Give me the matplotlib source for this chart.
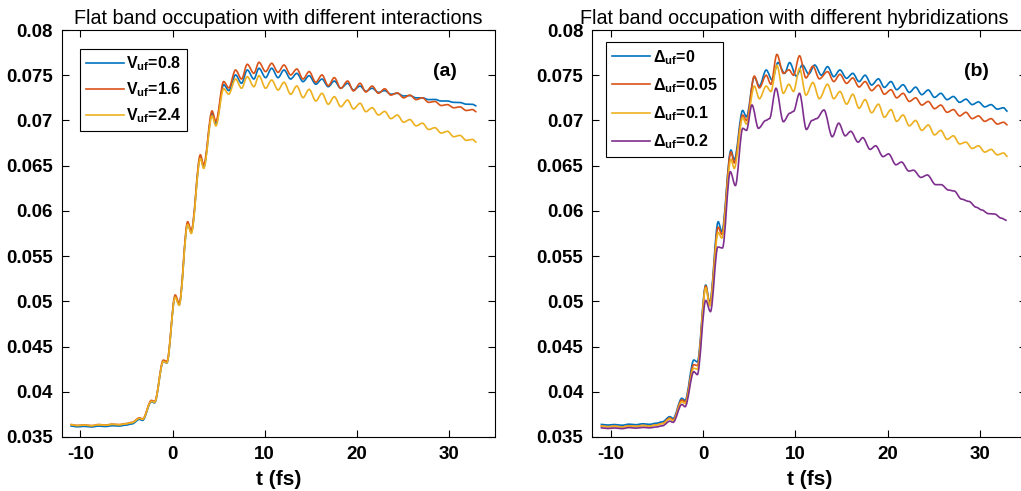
"""Flat band occupation vs time for different interactions and hybridizations"""

import numpy as np
from matplotlib import pyplot as plt
from matplotlib.ticker import FuncFormatter
from matplotlib.path import Path
from matplotlib.patches import PathPatch
from matplotlib.lines import Line2D

plt.rcParams['font.family'] = ['Liberation Sans', 'DejaVu Sans']
plt.rcParams['font.weight'] = 'bold'
plt.rcParams['axes.unicode_minus'] = False
plt.rcParams['mathtext.fontset'] = 'custom'
plt.rcParams['mathtext.rm'] = 'Liberation Sans'
plt.rcParams['mathtext.bf'] = 'Liberation Sans:bold'
plt.rcParams['mathtext.it'] = 'Liberation Sans:italic'

# time samples (fs) at the extrema of the oscillations
t_rise = [-11.1, -10.3, -9.6, -8.8, -8.0, -7.3, -6.5, -5.8, -5.1, -4.4, -3.6, -3.25,
          -2.3, -1.95, -1.0, -0.62, 0.29, 0.72, 1.64, 2.03, 3.02, 3.38, 4.29, 4.7]
t_mid_a = [5.55, 6.1, 6.84, 7.49, 8.11, 8.83, 9.38, 10.1, 10.76, 11.45, 12.1, 12.82]
t_mid_b = [5.55, 6.1, 6.84, 7.35, 8.0, 8.7, 9.3, 9.8, 10.45, 11.15, 11.9, 12.6]
t_tail = [13.49, 14.16, 14.83, 15.55, 16.22, 16.9, 17.56, 18.26, 19.0, 19.64, 20.36,
          20.98, 21.67, 22.35, 23.03, 23.7, 24.4, 25.08, 25.76, 26.44, 27.12, 27.8,
          28.48, 29.16, 29.84, 30.52, 31.2, 31.88, 32.56, 33.0]
t_a = t_rise + t_mid_a + t_tail
t_b = t_rise + t_mid_b + t_tail
t_purple = [-11.1, -10.3, -9.6, -8.8, -8.0, -7.3, -6.5, -5.8, -5.1, -4.4, -3.6, -3.25,
            -2.3, -1.95, -1.0, -0.62, 0.29, 0.8, 1.6, 2.1, 2.95, 3.5, 4.3, 4.7,
            5.3, 6.0, 6.8, 7.2, 7.9, 8.7, 9.4, 9.8, 10.45, 11.2, 11.8, 12.3, 13.1,
            14.0, 14.7, 15.4, 16.0, 16.8, 17.3, 18.1, 18.7, 19.5, 20.1, 20.9, 21.5,
            22.3, 22.8, 23.6, 24.3, 25.2, 25.8, 26.6, 27.2, 28.0, 28.8, 29.6, 30.2,
            30.9, 31.6, 32.3, 32.9]

# (a) different interactions V_uf
occ_v08 = [0.03622, 0.03613, 0.03618, 0.03611, 0.03621, 0.03616, 0.03625, 0.03621,
           0.03631, 0.03645, 0.03695, 0.03684, 0.03890, 0.03878, 0.04335, 0.04318,
           0.05052, 0.04962, 0.05860, 0.05765, 0.06595, 0.06485, 0.07075, 0.06960,
           0.07395, 0.07330, 0.07503, 0.07411, 0.07558, 0.07458, 0.07577, 0.07473,
           0.07577, 0.07473, 0.07558, 0.07458,
           0.07521, 0.07429, 0.07495, 0.07400, 0.07458, 0.07373, 0.07436, 0.07356,
           0.07411, 0.07337, 0.07380, 0.07322, 0.07356, 0.07310, 0.07330, 0.07290,
           0.07300, 0.07270, 0.07275, 0.07250, 0.07250, 0.07230, 0.07232, 0.07215,
           0.07215, 0.07200, 0.07198, 0.07180, 0.07178, 0.07160]
occ_v16 = [0.03638, 0.03628, 0.03634, 0.03626, 0.03638, 0.03632, 0.03642, 0.03637,
           0.03648, 0.03662, 0.03712, 0.03700, 0.03905, 0.03893, 0.04350, 0.04335,
           0.05070, 0.04980, 0.05880, 0.05785, 0.06620, 0.06510, 0.07105, 0.06990,
           0.07430, 0.07360, 0.07558, 0.07458, 0.07621, 0.07521, 0.07643, 0.07540,
           0.07632, 0.07532, 0.07613, 0.07503,
           0.07569, 0.07458, 0.07540, 0.07422, 0.07503, 0.07384, 0.07473, 0.07355,
           0.07436, 0.07326, 0.07411, 0.07315, 0.07380, 0.07300, 0.07350, 0.07280,
           0.07305, 0.07250, 0.07280, 0.07230, 0.07250, 0.07200, 0.07210, 0.07165,
           0.07175, 0.07140, 0.07150, 0.07110, 0.07120, 0.07095]
occ_v24 = [0.03636, 0.03626, 0.03632, 0.03624, 0.03636, 0.03630, 0.03640, 0.03635,
           0.03645, 0.03658, 0.03706, 0.03695, 0.03895, 0.03884, 0.04335, 0.04320,
           0.05045, 0.04955, 0.05850, 0.05750, 0.06580, 0.06470, 0.07050, 0.06940,
           0.07350, 0.07290, 0.07458, 0.07356, 0.07484, 0.07373, 0.07495, 0.07356,
           0.07447, 0.07337, 0.07422, 0.07289,
           0.07381, 0.07252, 0.07344, 0.07215, 0.07300, 0.07179, 0.07263, 0.07152,
           0.07226, 0.07127, 0.07190, 0.07097, 0.07141, 0.07060, 0.07100, 0.07020,
           0.07060, 0.06980, 0.07010, 0.06940, 0.06970, 0.06900, 0.06920, 0.06860,
           0.06880, 0.06820, 0.06835, 0.06780, 0.06790, 0.06758]

# (b) different hybridizations Delta_uf
occ_d0 = [0.03640, 0.03632, 0.03638, 0.03630, 0.03642, 0.03636, 0.03646, 0.03640,
          0.03652, 0.03668, 0.03725, 0.03705, 0.03928, 0.03905, 0.04351, 0.04330,
          0.05180, 0.04985, 0.05880, 0.05770, 0.06673, 0.06563, 0.07110, 0.07040,
          0.07480, 0.07380, 0.07558, 0.07447, 0.07640, 0.07521, 0.07640, 0.07490,
          0.07613, 0.07515, 0.07613, 0.07500,
          0.07595, 0.07484, 0.07558, 0.07466, 0.07521, 0.07429, 0.07500, 0.07392,
          0.07460, 0.07365, 0.07430, 0.07340, 0.07395, 0.07310, 0.07368, 0.07285,
          0.07337, 0.07255, 0.07300, 0.07230, 0.07265, 0.07200, 0.07235, 0.07175,
          0.07205, 0.07150, 0.07175, 0.07125, 0.07140, 0.07100]
occ_d005 = [0.03622, 0.03614, 0.03620, 0.03612, 0.03624, 0.03618, 0.03628, 0.03622,
            0.03634, 0.03650, 0.03710, 0.03690, 0.03910, 0.03890, 0.04300, 0.04290,
            0.05170, 0.04970, 0.05820, 0.05740, 0.06650, 0.06530, 0.07060, 0.07000,
            0.07490, 0.07360, 0.07500, 0.07400, 0.07730, 0.07520, 0.07560, 0.07500,
            0.07715, 0.07470, 0.07600, 0.07460,
            0.07540, 0.07430, 0.07510, 0.07410, 0.07470, 0.07370, 0.07430, 0.07330,
            0.07390, 0.07290, 0.07340, 0.07250, 0.07300, 0.07210, 0.07250, 0.07170,
            0.07210, 0.07130, 0.07170, 0.07090, 0.07120, 0.07050, 0.07090, 0.07020,
            0.07050, 0.06990, 0.07020, 0.06960, 0.06980, 0.06950]
occ_d01 = [0.03620, 0.03612, 0.03618, 0.03610, 0.03622, 0.03616, 0.03626, 0.03620,
           0.03632, 0.03646, 0.03700, 0.03680, 0.03890, 0.03870, 0.04260, 0.04250,
           0.05150, 0.04950, 0.05760, 0.05700, 0.06570, 0.06470, 0.07030, 0.06960,
           0.07380, 0.07240, 0.07380, 0.07320, 0.07610, 0.07300, 0.07400, 0.07320,
           0.07575, 0.07280, 0.07420, 0.07240,
           0.07400, 0.07240, 0.07320, 0.07180, 0.07290, 0.07135, 0.07230, 0.07085,
           0.07180, 0.07035, 0.07120, 0.06990, 0.07060, 0.06940, 0.07000, 0.06890,
           0.06950, 0.06840, 0.06890, 0.06790, 0.06830, 0.06740, 0.06760, 0.06690,
           0.06720, 0.06650, 0.06680, 0.06620, 0.06640, 0.06600]
occ_d02 = [0.03602, 0.03594, 0.03600, 0.03592, 0.03604, 0.03598, 0.03606, 0.03601,
           0.03610, 0.03624, 0.03675, 0.03662, 0.03860, 0.03835, 0.04222, 0.04190,
           0.05010, 0.04886, 0.05600, 0.05590, 0.06433, 0.06280, 0.06913, 0.06890,
           0.07171, 0.06913, 0.07000, 0.07020, 0.07356, 0.06986, 0.07080, 0.07100,
           0.07300, 0.06900, 0.07000, 0.07020, 0.07116,
           0.06820, 0.06970, 0.06830, 0.06880, 0.06760, 0.06810, 0.06680, 0.06720,
           0.06600, 0.06630, 0.06510, 0.06540, 0.06440, 0.06450, 0.06370, 0.06397,
           0.06290, 0.06290, 0.06230, 0.06220, 0.06130, 0.06105, 0.06040, 0.06010,
           0.05970, 0.05965, 0.05920, 0.05895]

labels_v = [r'$\mathbf{V_{uf}}$=0.8', r'$\mathbf{V_{uf}}$=1.6', r'$\mathbf{V_{uf}}$=2.4']
labels_d = [r'$\mathbf{\Delta_{uf}}$=0', r'$\mathbf{\Delta_{uf}}$=0.05',
            r'$\mathbf{\Delta_{uf}}$=0.1', r'$\mathbf{\Delta_{uf}}$=0.2']
colors = ['#0072BD', '#D95319', '#EDB120', '#7E2F8E']
x_ticks = [-10, 0, 10, 20, 30]
y_ticks = [0.035, 0.04, 0.045, 0.05, 0.055, 0.06, 0.065, 0.07, 0.075, 0.08]


def smooth_curve(ax, t, y, color):
    """Draws a curve through the extrema with flat tangents (cubic Bezier pieces)"""
    verts = [(t[0], y[0])]
    codes = [Path.MOVETO]
    for i in range(len(t) - 1):
        dt = t[i + 1] - t[i]
        verts += [(t[i] + dt / 3, y[i]), (t[i + 1] - dt / 3, y[i + 1]), (t[i + 1], y[i + 1])]
        codes += [Path.CURVE4] * 3
    ax.add_patch(PathPatch(Path(verts, codes), facecolor='none', edgecolor=color,
                           lw=1.2, transform=ax.transData))


def style_axes(ax, title, title_x, tag):
    """MATLAB-like box axes"""
    ax.set_xlim(-12, 35)
    ax.set_ylim(0.035, 0.08)
    ax.set_xticks(x_ticks)
    ax.set_yticks(y_ticks)
    ax.yaxis.set_major_formatter(FuncFormatter(lambda v, p: '{:g}'.format(v)))
    ax.tick_params(direction='in', top=True, right=True, length=5, width=0.8,
                   labelsize=13.5, pad=6.5)
    for spine in ax.spines.values():
        spine.set_linewidth(0.8)
    ax.set_xlabel('t (fs)', fontsize=15, fontweight='bold', labelpad=5)
    ax.set_title(title, fontsize=14.2, fontweight='normal', x=title_x, pad=4)
    ax.text(29.6, 0.0754, tag, fontsize=14, fontweight='bold', ha='center', va='center')


fig = plt.figure(figsize=(10.21, 4.91), dpi=100)
ax_a = fig.add_axes([0.06072, 0.10998, 0.42409, 0.82892])
ax_b = fig.add_axes([0.58012, 0.10998, 0.42488, 0.82892])

series_a = [occ_v08, occ_v16, occ_v24]
for occ, col in zip(series_a, colors):
    smooth_curve(ax_a, t_a, occ, col)

series_b = [(t_a, occ_d0), (t_b, occ_d005), (t_b, occ_d01), (t_purple, occ_d02)]
for (tt, occ), col in zip(series_b, colors):
    smooth_curve(ax_b, tt, occ, col)

style_axes(ax_a, 'Flat band occupation with different interactions', 0.5, '(a)')
style_axes(ax_b, 'Flat band occupation with different hybridizations', 0.466, '(b)')

for ax, labels, anchor, spacing in ((ax_a, labels_v, (0.0416, 0.953), 0.45),
                                    (ax_b, labels_d, (0.032, 0.97), 0.6)):
    handles = [Line2D([], [], color=c, lw=1.2) for c in colors[:len(labels)]]
    leg = ax.legend(handles, labels, loc='upper left', bbox_to_anchor=anchor,
                    borderaxespad=0, fancybox=False, edgecolor='black', framealpha=1,
                    fontsize=11.5, handlelength=2.4, handletextpad=0.15,
                    labelspacing=spacing, borderpad=0.35)
    leg.get_frame().set_linewidth(0.8)

fig.savefig('out.png', dpi=100)
